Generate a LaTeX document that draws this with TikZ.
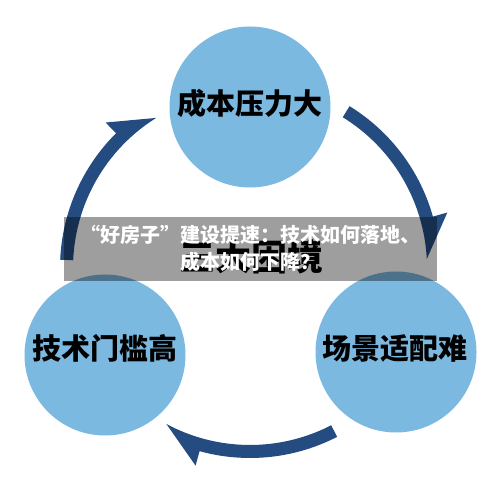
\documentclass[tikz,border=0pt]{standalone}
\usepackage{fontspec}
\newfontfamily\cjk{Noto Sans CJK SC}
\definecolor{circblue}{HTML}{7CB9E1}
\definecolor{arrowblue}{HTML}{244C80}
\tikzset{
  bubble/.style={circle, fill=circblue, minimum size=161pt, inner sep=0pt},
  bubbletext/.style={font=\cjk\bfseries\fontsize{29}{32}\selectfont, text=black, inner sep=0pt},
  bannertext/.style={font=\cjk\bfseries\fontsize{20}{27}\selectfont, text=white, align=center, inner sep=0pt},
}
\newcommand{\cycarrow}[1]{%
  \pgfmathsetmacro\tipA{#1-55.5}%
  \pgfmathsetmacro\barbA{#1-42.7}%
  \fill[arrowblue] (#1:177pt) arc[start angle=#1, end angle=\tipA, radius=177pt]
    -- (\barbA:205pt) -- (\barbA:190pt)
    arc[start angle=\barbA, end angle=#1, radius=190pt] -- cycle;}
\begin{document}
\begin{tikzpicture}[x=1pt,y=1pt]
\useasboundingbox (0,0) rectangle (500,500);
\fill[white] (0,0) rectangle (500,500);
% cycle arrows
\begin{scope}[shift={(250,232)}]
  \cycarrow{58.4}
  \cycarrow{-62.7}
  \cycarrow{177.5}
\end{scope}
% bubbles
\node[bubble] (top) at (250,393) {};
\node[bubble] (left) at (105,145) {};
\node[bubble] (right) at (396,148) {};
\node[bubbletext] (toptext) at (250,397) {成本压力大};
\node[bubbletext] (lefttext) at (105,152) {技术门槛高};
\node[bubbletext] (righttext) at (395,152) {场景适配难};
% centre title
\node[font=\cjk\bfseries\fontsize{36}{40}\selectfont, inner sep=0pt] (centre) at (251,243) {三大困境};
% banner
\fill[black, opacity=0.38] (64,219) rectangle (437,283);
\node[bannertext] (banner) at (250,251.5) {“好房子”建设提速：技术如何落地、\\成本如何下降？};
\end{tikzpicture}
\end{document}
